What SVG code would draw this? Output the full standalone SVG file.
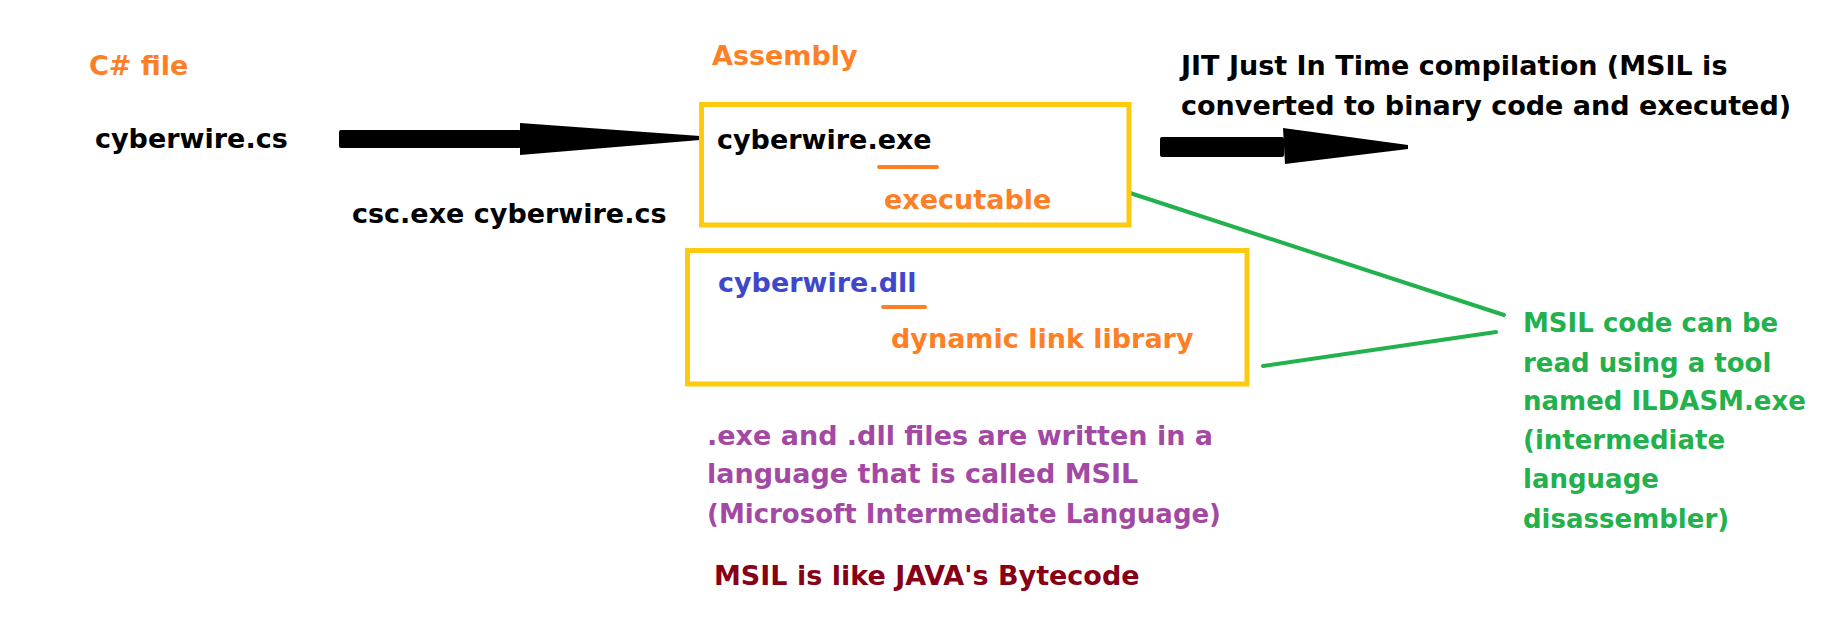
<svg xmlns="http://www.w3.org/2000/svg" width="1846" height="637" viewBox="0 0 1846 637">
<style>
text{font-family:"DejaVu Sans","Verdana",sans-serif;font-weight:bold;font-size:27px}
.k{fill:#000}
.o{fill:#FF7F27}
.b{fill:#3F48CC}
.p{fill:#A349A4}
.r{fill:#880015}
.g{fill:#22B14C;font-size:26px}
.box{fill:none;stroke:#FFC90E;stroke-width:5}
.ul{stroke:#FF7F27;stroke-width:4;stroke-linecap:round}
.gl{stroke:#22B14C;stroke-width:4;stroke-linecap:round}
</style>
<rect width="1846" height="637" fill="#fff"/>
<g id="connectors">
  <g id="arrow-compile">
    <rect x="339" y="130" width="182" height="18" rx="2"/>
    <polygon points="520,123 700,136 700,140 520,155"/>
  </g>
  <g id="arrow-jit">
    <rect x="1160" y="137" width="124" height="20" rx="2"/>
    <polygon points="1283,128 1408,145 1408,149 1285,164"/>
  </g>
  <line class="gl" x1="1130" y1="193" x2="1504" y2="315"/>
  <line class="gl" x1="1263" y1="366" x2="1496" y2="332"/>
</g>
<g id="csfile-label"><text class="o" x="89" y="75">C# file</text></g>
<g id="csfile"><text class="k" x="95" y="148">cyberwire.cs</text></g>
<g id="compile-cmd"><text class="k" x="352" y="223">csc.exe cyberwire.cs</text></g>
<g id="assembly-label"><text class="o" x="712" y="65">Assembly</text></g>
<g id="exe-box">
  <rect class="box" x="701.5" y="104.5" width="427.5" height="120.5"/>
  <text class="k" x="717" y="149">cyberwire.exe</text>
  <line class="ul" x1="879" y1="167" x2="937" y2="167"/>
  <text class="o" x="884" y="209">executable</text>
</g>
<g id="dll-box">
  <rect class="box" x="687.5" y="250.5" width="559.5" height="133.5"/>
  <text class="b" x="718" y="292">cyberwire.dll</text>
  <line class="ul" x1="883" y1="307" x2="925" y2="307"/>
  <text class="o" x="891" y="348">dynamic link library</text>
</g>
<g id="jit-note">
  <text class="k" x="1181" y="75">JIT Just In Time compilation (MSIL is</text>
  <text class="k" x="1181" y="115">converted to binary code and executed)</text>
</g>
<g id="msil-note">
  <text class="p" x="707" y="445">.exe and .dll files are written in a</text>
  <text class="p" x="707" y="483">language that is called MSIL</text>
  <text class="p" x="707" y="523" textLength="514" lengthAdjust="spacingAndGlyphs">(Microsoft Intermediate Language)</text>
</g>
<g id="bytecode-note"><text class="r" x="714" y="585">MSIL is like JAVA's Bytecode</text></g>
<g id="ildasm-note">
  <text class="g" x="1523" y="332">MSIL code can be</text>
  <text class="g" x="1523" y="372">read using a tool</text>
  <text class="g" x="1523" y="410">named ILDASM.exe</text>
  <text class="g" x="1523" y="449">(intermediate</text>
  <text class="g" x="1523" y="488">language</text>
  <text class="g" x="1523" y="528">disassembler)</text>
</g>
</svg>
